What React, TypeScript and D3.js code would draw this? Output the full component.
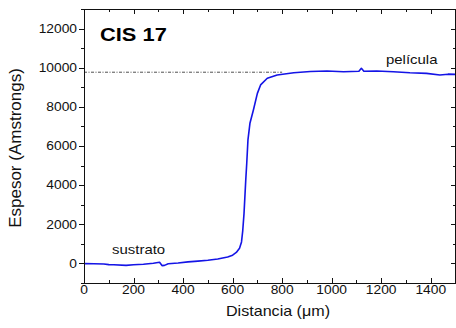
import React, { useEffect, useRef } from 'react';
import * as d3 from 'd3';

// distance (µm) and thickness (Å)
const distancia = [0, 40, 80, 100, 120, 170, 200, 240, 280, 305, 315, 325, 340, 380, 420, 460, 500, 540, 580, 600, 615, 628, 636, 641, 646, 653, 657, 662, 670, 684, 700, 713, 740, 780, 847, 914, 981, 1048, 1110, 1120, 1130, 1182, 1249, 1316, 1383, 1437, 1470, 1500];
const espesor = [-10, -20, -30, -60, -70, -100, -70, -40, 10, 60, -110, -100, -20, 20, 80, 120, 160, 230, 330, 420, 560, 780, 1100, 1680, 2530, 4230, 5090, 6310, 7160, 7840, 8690, 9120, 9460, 9630, 9740, 9810, 9830, 9790, 9820, 9970, 9820, 9830, 9790, 9740, 9710, 9630, 9670, 9660];

const nivelPelicula = 9770;
const finPelicula = 800;

const xTicks = [0, 200, 400, 600, 800, 1000, 1200, 1400];
const yTicks = [0, 2000, 4000, 6000, 8000, 10000, 12000];

const W = 456;
const H = 328;

export default function App() {
  const svgRef = useRef<SVGSVGElement>(null);

  useEffect(() => {
    if (!svgRef.current) return;
    const svg = d3.select(svgRef.current);
    svg.selectAll('*').remove();

    const left = 84, right = 456, top = 9, bottom = 283;
    const x = d3.scaleLinear().domain([0, 1500]).range([left, right - 0.5]);
    const y = d3.scaleLinear().domain([-1000, 13000]).range([bottom, top]);
    const font = '"Liberation Sans", Arial, sans-serif';
    const sx = 1.15;
    const ink = '#111';

    svg.append('rect').attr('width', W).attr('height', H).attr('fill', '#fff');

    // reference level of the film
    svg.append('line')
      .attr('x1', x(0)).attr('x2', x(finPelicula))
      .attr('y1', y(nivelPelicula)).attr('y2', y(nivelPelicula))
      .attr('stroke', '#222').attr('stroke-width', 0.8)
      .attr('stroke-dasharray', '3,1.5,1,1.5');

    const line = d3.line<number>()
      .x((_, i) => x(distancia[i]))
      .y(d => y(d));
    svg.append('path').datum(espesor)
      .attr('fill', 'none').attr('stroke', '#1414e6').attr('stroke-width', 1.6)
      .attr('stroke-linejoin', 'round').attr('d', line);

    // frame
    svg.append('rect')
      .attr('x', left + 0.5).attr('y', top + 0.5)
      .attr('width', right - left - 1).attr('height', bottom - top)
      .attr('fill', 'none').attr('stroke', ink).attr('stroke-width', 1);

    const tickG = svg.append('g').attr('stroke', ink).attr('stroke-width', 1);
    const xMinor = d3.range(0, 1501, 100);
    xMinor.forEach(v => {
      const len = v % 200 === 0 ? 5 : 3;
      const px = Math.round(x(v)) + 0.5;
      tickG.append('line').attr('x1', px).attr('x2', px).attr('y1', bottom).attr('y2', bottom - len);
      tickG.append('line').attr('x1', px).attr('x2', px).attr('y1', top).attr('y2', top + len);
    });
    const yMinor = d3.range(-1000, 13001, 1000);
    yMinor.forEach(v => {
      const len = v % 2000 === 0 ? 5 : 3;
      const py = Math.round(y(v)) + 0.5;
      tickG.append('line').attr('x1', left).attr('x2', left - len).attr('y1', py).attr('y2', py);
      tickG.append('line').attr('x1', right).attr('x2', right - len).attr('y1', py).attr('y2', py);
    });

    // tick labels
    xTicks.forEach(v => {
      svg.append('text')
        .attr('transform', `translate(${x(v)},${bottom + 11}) scale(${sx},1)`)
        .attr('text-anchor', 'middle').attr('font-family', font).attr('font-size', 12)
        .attr('fill', ink).text(String(v));
    });
    yTicks.forEach(v => {
      svg.append('text')
        .attr('transform', `translate(${left - 7},${y(v) + 4.3}) scale(${sx},1)`)
        .attr('text-anchor', 'end').attr('font-family', font).attr('font-size', 12)
        .attr('fill', ink).text(String(v));
    });

    // axis titles
    svg.append('text')
      .attr('transform', `translate(278,316) scale(${sx},1)`)
      .attr('text-anchor', 'middle').attr('font-family', font).attr('font-size', 14)
      .attr('fill', ink).text('Distancia (\u03bcm)');
    svg.append('text')
      .attr('transform', 'translate(21,148) rotate(-90)')
      .attr('text-anchor', 'middle').attr('font-family', font).attr('font-size', 17)
      .attr('fill', ink).text('Espesor (Amstrongs)');

    // annotations
    svg.append('text')
      .attr('transform', `translate(100,41) scale(${sx},1)`)
      .attr('font-family', font).attr('font-size', 19).attr('font-weight', 'bold')
      .attr('fill', '#000').text('CIS 17');
    svg.append('text')
      .attr('transform', `translate(386,64) scale(${sx},1)`)
      .attr('font-family', font).attr('font-size', 13)
      .attr('fill', ink).text('película');
    svg.append('text')
      .attr('transform', `translate(112,254) scale(${sx},1)`)
      .attr('font-family', font).attr('font-size', 13)
      .attr('fill', ink).text('sustrato');
  }, []);

  return (
    <svg ref={svgRef} width={W} height={H} viewBox={`0 0 ${W} ${H}`}
      style={{ position: 'fixed', left: 0, top: 0, display: 'block' }} />
  );
}
